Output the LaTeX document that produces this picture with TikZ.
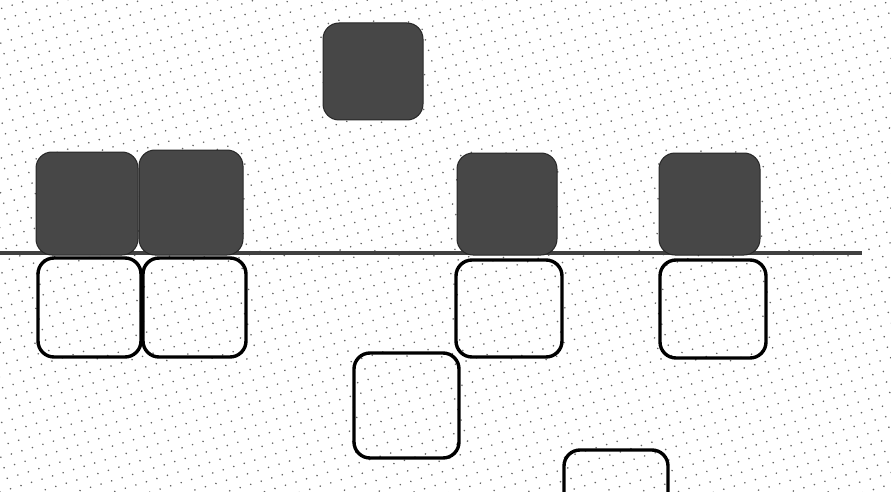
\documentclass[tikz,border=0pt]{standalone}
\usetikzlibrary{patterns.meta}
\begin{document}
\begin{tikzpicture}[x=1pt,y=-1pt,
  darkbox/.style={draw=black!85,line width=1pt,fill=black!72,rounded corners=16pt,inner sep=0pt},
  openbox/.style={draw=black,line width=3.4pt,rounded corners=16pt,inner sep=0pt},
  baseline/.style={draw=black!75,line width=4.5pt}]
\useasboundingbox (0,0) rectangle (891,492);
\fill[white] (0,0) rectangle (891,492);
\fill[pattern={Dots[distance=11pt,radius=0.9pt,angle=17]},pattern color=black!60] (0,0) rectangle (891,492);
% horizontal line
\coordinate (l0) at (0,253);
\coordinate (l1) at (862,253);
\draw[baseline] (l0) -- (l1);
% outlined boxes
\path[openbox] (38,258) rectangle (141,357) coordinate (o1);
\path[openbox] (143,258) rectangle (246,357) coordinate (o2);
\path[openbox] (456,260) rectangle (562,357) coordinate (o3);
\path[openbox] (660,260) rectangle (766,358) coordinate (o4);
\path[openbox] (354,353) rectangle (459,458) coordinate (o5);
\path[openbox] (564,450) rectangle (668,540) coordinate (o6);
% dark boxes
\path[darkbox] (323,23) rectangle (423,120) coordinate (d0);
\path[darkbox] (36,152) rectangle (138,255) coordinate (d1);
\path[darkbox] (139,150) rectangle (243,255) coordinate (d2);
\path[darkbox] (457,153) rectangle (557,255) coordinate (d3);
\path[darkbox] (659,153) rectangle (760,255) coordinate (d4);
\end{tikzpicture}
\end{document}
